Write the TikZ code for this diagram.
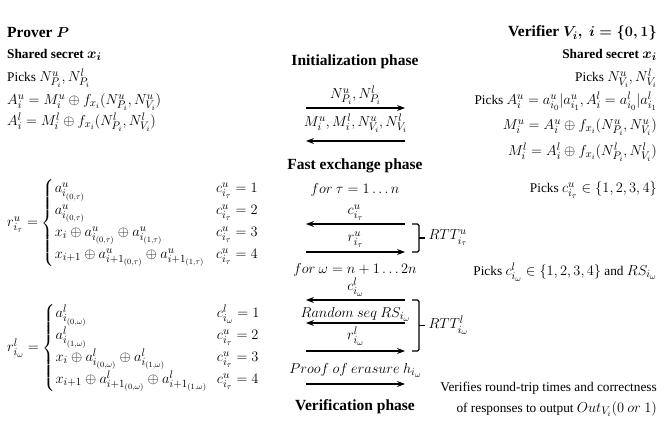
\documentclass[tikz,border=0pt]{standalone}
\usepackage{amsmath}
\usepackage{mathtools}
\usepackage{fontspec}
\setmainfont{Liberation Serif}
\usetikzlibrary{
  calc, % For the bracket tips
  arrows.meta % For arrow tips
}

% larger math, like the original
\DeclareMathSizes{13.3}{14.4}{10.95}{8}
\DeclareMathSizes{15.5}{15.5}{11}{8}

% fixed width for the first column of the cases
\newcommand{\cw}[1]{\mathmakebox[148pt][l]{#1}}

\begin{document}
\begin{tikzpicture}[
      x=1pt, y=-1pt, % pixel grid, y downwards
      font=\fontsize{13.3}{16}\selectfont,
      >=Stealth, % Default arrow tip
      phase/.style={font=\fontsize{15.5}{18}\selectfont\bfseries}, % Headings
      secret/.style={font=\fontsize{13.3}{16}\selectfont\bfseries}, % Shared secret
      lft/.style={anchor=west, inner sep=0pt}, % Prover column
      rgt/.style={anchor=east, inner sep=0pt}, % Verifier column
      msg/.style={line width=1.1pt, ->}, % Message arrows
      lbl/.style={inner sep=1pt}, % Message labels
      rtt/.style={line width=1.1pt, rounded corners=1.5pt}, % Round-trip brackets
    ]

    \useasboundingbox (0,0) rectangle (664,422);

    % Prover
    \node[lft, phase] (pname) at (7,33) {Prover $\boldsymbol{P}$};
    \node[lft, secret] (psec) at (7,55) {Shared secret $\boldsymbol{x_i}$};
    \node[lft] (ppick) at (7,78) {Picks $N^u_{P_i}, N^l_{P_i}$};
    \node[lft] (pau) at (7,102) {$A^u_i = M^u_i \oplus f_{x_i}(N^u_{P_i}, N^u_{V_i})$};
    \node[lft] (pal) at (7,122) {$A^l_i = M^l_i \oplus f_{x_i}(N^l_{P_i}, N^l_{V_i})$};

    % Antworten
    \node[lft] (ru) at (7,223) {$r^u_{i_\tau} = \begin{cases}
        \cw{a^u_{i_{(0,\tau)}}} & c^u_{i_\tau} = 1\\
        \cw{a^u_{i_{(0,\tau)}}} & c^u_{i_\tau} = 2\\
        \cw{x_i \oplus a^u_{i_{(0,\tau)}} \oplus a^u_{i_{(1,\tau)}}} & c^u_{i_\tau} = 3\\
        \cw{x_{i+1} \oplus a^u_{{i+1}_{(0,\tau)}} \oplus a^u_{{i+1}_{(1,\tau)}}} & c^u_{i_\tau} = 4
      \end{cases}$};
    \node[lft] (rl) at (7,348) {$r^l_{i_\omega} = \begin{cases}
        \cw{a^l_{i_{(0,\omega)}}} & c^l_{i_\omega} = 1\\
        \cw{a^l_{i_{(1,\omega)}}} & c^u_{i_\tau} = 2\\
        \cw{x_i \oplus a^l_{i_{(0,\omega)}} \oplus a^l_{i_{(1,\omega)}}} & c^u_{i_\tau} = 3\\
        \cw{x_{i+1} \oplus a^l_{{i+1}_{(0,\omega)}} \oplus a^l_{{i+1}_{(1,\omega)}}} & c^u_{i_\tau} = 4
      \end{cases}$};

    % Verifier
    \node[rgt, phase] (vname) at (657,33) {Verifier $\boldsymbol{V_i,\ i = \{0,1\}}$};
    \node[rgt, secret] (vsec) at (657,55) {Shared secret $\boldsymbol{x_i}$};
    \node[rgt] (vpick) at (657,78) {Picks $N^u_{V_i}, N^l_{V_i}$};
    \node[rgt] (vpa) at (657,101) {Picks $A^u_i = a^u_{i_0}|a^u_{i_1}, A^l_i = a^l_{i_0}|a^l_{i_1}$};
    \node[rgt] (vmu) at (657,127) {$M^u_i = A^u_i \oplus f_{x_i}(N^u_{P_i}, N^u_{V_i})$};
    \node[rgt] (vml) at (657,152) {$M^l_i = A^l_i \oplus f_{x_i}(N^l_{P_i}, N^l_{V_i})$};
    \node[rgt] (vcu) at (657,190) {Picks $c^u_{i_\tau} \in \{1,2,3,4\}$};
    \node[rgt] (vcl) at (657,272) {Picks $c^l_{i_\omega} \in \{1,2,3,4\}$ and $RS_{i_\omega}$};
    \node[rgt] (vver) at (657,388) {Verifies round-trip times and correctness};
    \node[rgt] (vout) at (657,409) {of responses to output $Out_{V_i}(0\ or\ 1)$};

    % Endpunkte der Nachrichten
    \foreach \n/\y in {1/108, 2/141, 3/224, 4/252, 5/300, 6/323, 7/351, 8/384}
    {
      \coordinate (p\n) at (306,\y);
      \coordinate (v\n) at (405,\y);
    }

    % Phasen
    \node[phase] (init) at (355,62) {Initialization phase};
    \node[phase] (fast) at (355,166) {Fast exchange phase};
    \node (loopu) at (355,190) {$for\ \tau = 1 \dots n$};
    \node (loopl) at (355,270) {$for\ \omega = n + 1 \dots 2n$};
    \node[phase] (verif) at (355,407) {Verification phase};

    % Nachrichten
    \draw[msg] (p1) -- (v1) node[lbl, midway, above=2pt] (m1) {$N^u_{P_i}, N^l_{P_i}$};
    \draw[msg] (v2) -- (p2) node[lbl, midway, above=7pt] (m2) {$M^u_i, M^l_i, N^u_{V_i}, N^l_{V_i}$};
    \draw[msg] (v3) -- (p3) node[lbl, midway, above=2pt] (m3) {$c^u_{i_\tau}$};
    \draw[msg] (p4) -- (v4) node[lbl, midway, above=3pt] (m4) {$r^u_{i_\tau}$};
    \draw[msg] (v5) -- (p5) node[lbl, midway, above=2pt] (m5) {$c^l_{i_\omega}$};
    \draw[msg] (v6) -- (p6) node[lbl, midway, above=0pt] (m6) {$Random\ seq\ RS_{i_\omega}$};
    \draw[msg] (p7) -- (v7) node[lbl, midway, above=4pt] (m7) {$r^l_{i_\omega}$};
    \draw[msg] (p8) -- (v8) node[lbl, midway, above=5pt] (m8) {$Proof\ of\ erasure\ h_{i_\omega}$};

    % Round-trip Klammern
    \draw[rtt] ($(v3)+(7,0)$) -- ($(v3)+(14,0)$) -- ($(v4)+(14,0)$) -- ($(v4)+(7,0)$);
    \draw[rtt] ($(v3)!0.5!(v4)+(14,0)$) -- ++(6,0) coordinate (tu);
    \node[anchor=west] (rttu) at (tu) {$RTT^u_{i_\tau}$};
    \draw[rtt] ($(v5)+(7,0)$) -- ($(v5)+(14,0)$) -- ($(v7)+(14,0)$) -- ($(v7)+(7,0)$);
    \draw[rtt] ($(v5)!0.5!(v7)+(14,0)$) -- ++(6,0) coordinate (tl);
    \node[anchor=west] (rttl) at (tl) {$RTT^l_{i_\omega}$};

  \end{tikzpicture}
\end{document}
